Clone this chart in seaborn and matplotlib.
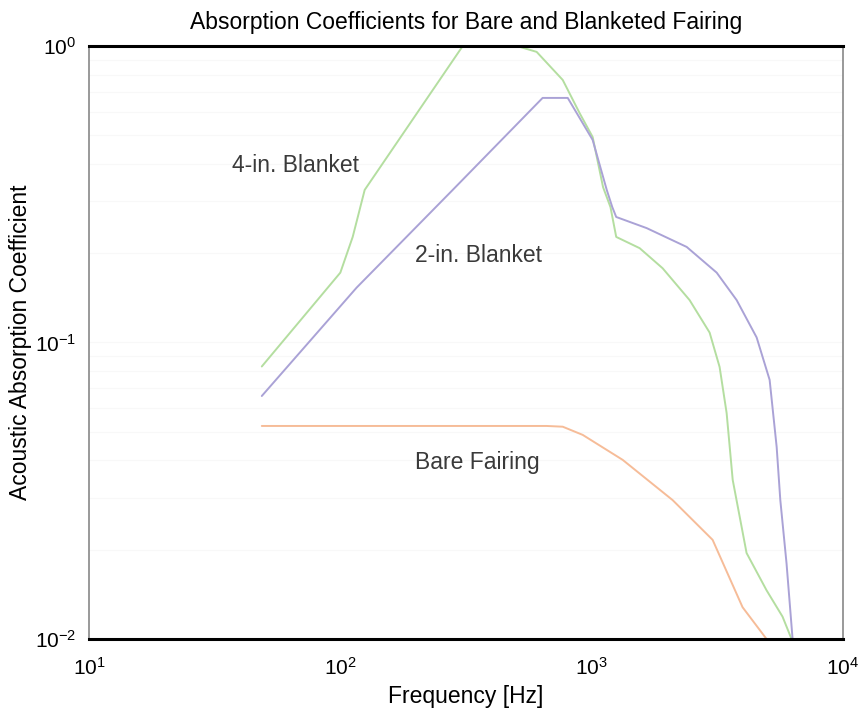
import matplotlib
matplotlib.use("Agg")
import matplotlib.pyplot as plt
import numpy as np
import pandas as pd
import seaborn as sns

# -------- data --------
freq_4in = [48.7, 100, 112, 125, 307, 503, 604, 767, 895, 1009, 1110, 1188, 1252,
            1552, 1915, 2452, 2946, 3228, 3443, 3640, 4133, 4963, 5745, 6240, 7850]
abs_4in = [0.083, 0.172, 0.227, 0.327, 1.0, 1.0, 0.955, 0.768, 0.594, 0.493, 0.334, 0.286, 0.227,
           0.208, 0.178, 0.139, 0.108, 0.0827, 0.0578, 0.0344, 0.0195, 0.0146, 0.0119, 0.0100, 0.0100]

freq_2in = [48.7, 116, 280, 638, 803, 1009, 1148, 1208, 1252, 1656, 2388, 3143,
            3773, 4532, 5105, 5445, 5630, 5960, 6300]
abs_2in = [0.066, 0.153, 0.327, 0.668, 0.668, 0.482, 0.327, 0.286, 0.265, 0.243, 0.210, 0.172,
           0.139, 0.104, 0.0748, 0.0444, 0.0294, 0.018, 0.0100]

freq_bare = [48.7, 662, 767, 921, 1328, 2100, 3028, 3984, 4963]
abs_bare = [0.0523, 0.0523, 0.052, 0.0488, 0.0402, 0.0294, 0.0216, 0.0128, 0.0100]

curve_labels = ["4-in. Blanket", "2-in. Blanket", "Bare Fairing"]
label_x = [37, 198, 198]
label_y = [0.394, 0.197, 0.0395]

colors = {"4-in. Blanket": "#b4dea0", "2-in. Blanket": "#aaa2d6", "Bare Fairing": "#f6bc98"}

df = pd.concat([
    pd.DataFrame({"freq": freq_4in, "alpha": abs_4in, "curve": "4-in. Blanket"}),
    pd.DataFrame({"freq": freq_2in, "alpha": abs_2in, "curve": "2-in. Blanket"}),
    pd.DataFrame({"freq": freq_bare, "alpha": abs_bare, "curve": "Bare Fairing"}),
])

sns.set_style("white")
plt.rcParams["font.family"] = ["Liberation Sans", "DejaVu Sans"]

fig = plt.figure(figsize=(8.59, 7.18), dpi=100)
ax = fig.add_axes([0.1036, 0.110, 0.8778, 0.826])

sns.lineplot(data=df, x="freq", y="alpha", hue="curve", palette=colors,
             sort=False, estimator=None, linewidth=1.4, legend=False, ax=ax)

ax.set_xscale("log")
ax.set_yscale("log")
ax.set_xlim(10, 1e4)
ax.set_ylim(1e-2, 1)

ax.grid(True, which="both", axis="y", color="#f8f8f8", linewidth=0.8)
ax.set_axisbelow(True)

for name, lx, ly in zip(curve_labels, label_x, label_y):
    ax.text(lx, ly, name, fontsize=16.5, color="#3a3a3a", va="center", ha="left")

ax.tick_params(which="both", direction="in", labelsize=15, color="#555555", labelcolor="black")
ax.tick_params(which="major", length=4)
ax.tick_params(which="minor", length=2.5)
ax.tick_params(axis="x", pad=13)
ax.tick_params(axis="y", pad=9)

for side in ["top", "bottom"]:
    ax.spines[side].set_color("black")
    ax.spines[side].set_linewidth(2.2)
for side in ["left", "right"]:
    ax.spines[side].set_color("#888888")
    ax.spines[side].set_linewidth(1.2)

ax.set_title("Absorption Coefficients for Bare and Blanketed Fairing", fontsize=16.5,
             pad=12, color="black")
ax.set_xlabel("Frequency [Hz]", fontsize=16.5, labelpad=4, color="black")
ax.set_ylabel("Acoustic Absorption Coefficient", fontsize=16.5, labelpad=2, color="black")

fig.savefig("out.png", dpi=100)
